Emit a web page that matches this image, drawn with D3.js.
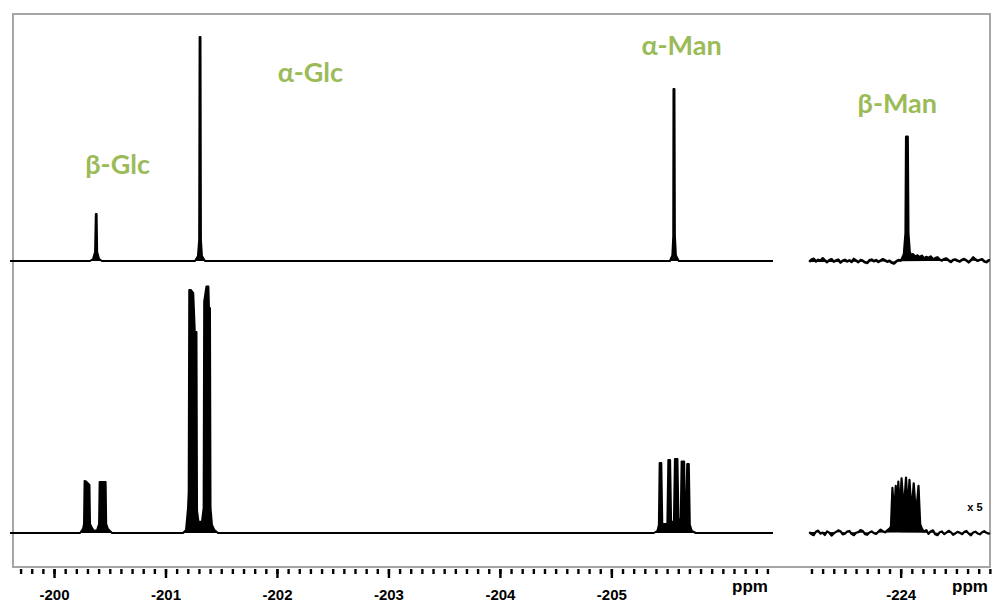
<!DOCTYPE html>
<html>
<head>
<meta charset="utf-8">
<script src="https://cdn.jsdelivr.net/npm/d3@7"></script>
<style>
  body { margin: 0; background: #fff; }
  svg { display: block; }
  .lbl { font-family: Lato, "Open Sans", sans-serif; font-weight: 700; font-size: 27px; fill: #9bbb59; }
  .tick text { font-family: "Liberation Sans", Arial, sans-serif; font-weight: 700; font-size: 15px; fill: #000; }
  .unit { font-family: "Liberation Sans", Arial, sans-serif; font-weight: 700; font-size: 17px; fill: #000; }
</style>
</head>
<body>
<svg id="chart"></svg>
<script>
// [ppm, intensity] points
const topLeft = [
  [-199.605, 0], [-200.323, 0], [-200.350, 0.9], [-200.368, 4], [-200.375, 21], [-200.382, 21],
  [-200.387, 4], [-200.404, 0.9], [-200.430, 0],
  [-201.265, 0], [-201.291, 2.2], [-201.302, 9.4], [-201.306, 100], [-201.314, 100],
  [-201.318, 9.4], [-201.327, 2.2], [-201.354, 0],
  [-205.525, 0], [-205.547, 2.5], [-205.555, 11], [-205.557, 76.8], [-205.566, 76.8],
  [-205.570, 11], [-205.579, 2.5], [-205.605, 0], [-206.45, 0]
];

const topRight = [
  [-223.18, -0.4], [-223.20, 0.6], [-223.22, 1.0], [-223.24, -0.2], [-223.26, 0.5], [-223.28, 0.1],
  [-223.30, 1.2], [-223.32, 0.3], [-223.34, -0.5], [-223.36, 0.4], [-223.38, 0.8], [-223.40, -0.3],
  [-223.42, 0.2], [-223.44, 0.6], [-223.46, -0.7], [-223.48, 0.1], [-223.50, 0.5], [-223.52, -0.2],
  [-223.54, 0.3], [-223.56, -0.4], [-223.58, 0.9], [-223.60, 0.2], [-223.62, -0.5], [-223.64, 0.4],
  [-223.66, 0.1], [-223.68, -0.6], [-223.70, -0.9], [-223.72, 0.3], [-223.74, 0.6], [-223.76, -0.1],
  [-223.78, 0.4], [-223.80, -0.4], [-223.82, 0.2], [-223.84, 0.8], [-223.86, 0.3], [-223.88, -0.3],
  [-223.90, 0.1], [-223.92, -0.8], [-223.94, -1.1], [-223.96, -0.2], [-223.98, 0.4], [-224.00, 0.2],
  [-224.010, 0.8], [-224.030, 3], [-224.045, 12.5], [-224.050, 55.5], [-224.062, 55.5],
  [-224.068, 12.5], [-224.080, 4],
  [-224.09, 2.6], [-224.11, 3.0], [-224.13, 1.9], [-224.15, 2.4], [-224.17, 1.6], [-224.19, 2.3],
  [-224.21, 1.1], [-224.23, 1.8], [-224.25, 1.3], [-224.27, 2.0], [-224.29, 0.7], [-224.31, 1.2],
  [-224.33, 1.6], [-224.35, 0.6], [-224.37, 0.2], [-224.39, 0.9], [-224.41, 1.1], [-224.43, 0.3],
  [-224.45, -0.4], [-224.47, 0.4], [-224.49, 0.7], [-224.51, 0.1], [-224.53, -0.2], [-224.55, 0.5],
  [-224.57, 0.9], [-224.59, 0.2], [-224.61, -0.6], [-224.63, 0.3], [-224.65, 1.6], [-224.67, 0.7],
  [-224.69, 0.1], [-224.71, 0.5], [-224.73, 0.8], [-224.75, -0.2], [-224.77, -0.5], [-224.79, 0.3],
  [-224.80, 0.2]
];

const bottomLeft = [
  [-199.605, 0], [-200.233, 0], [-200.260, 1.8], [-200.269, 4], [-200.274, 23.2], [-200.287, 23],
  [-200.318, 21.4], [-200.323, 4], [-200.341, 2.2], [-200.359, 0.9], [-200.386, 1.3], [-200.404, 4],
  [-200.409, 22.8], [-200.463, 22.8], [-200.468, 4], [-200.484, 1.8], [-200.520, 0],
  [-201.157, 0], [-201.184, 1.3], [-201.202, 11.2], [-201.208, 18.3], [-201.213, 108.5],
  [-201.229, 108.5], [-201.249, 107.1], [-201.263, 89.7], [-201.278, 89.7], [-201.283, 10],
  [-201.296, 5], [-201.327, 5], [-201.342, 11.2], [-201.347, 103.3], [-201.367, 110],
  [-201.385, 110], [-201.390, 100.4], [-201.399, 100.4], [-201.404, 11.2], [-201.417, 3.6],
  [-201.439, 1.3], [-201.471, 0],
  [-205.381, 0], [-205.413, 0.9], [-205.426, 3.6], [-205.433, 31.2], [-205.448, 31.2],
  [-205.457, 4], [-205.502, 4], [-205.511, 32.6], [-205.527, 32.6], [-205.536, 5],
  [-205.561, 5], [-205.570, 33], [-205.593, 33], [-205.602, 6], [-205.622, 6], [-205.630, 31.9],
  [-205.653, 31.9], [-205.662, 5], [-205.671, 5], [-205.680, 30.8], [-205.695, 30.8],
  [-205.704, 3.6], [-205.722, 0.9], [-205.758, 0], [-206.45, 0]
];

const bottomRight = [
  [-223.18, 0.4], [-223.20, -0.6], [-223.22, -1.0], [-223.24, 0.6], [-223.26, 1.1], [-223.28, -0.3],
  [-223.30, 0.2], [-223.32, -0.9], [-223.34, 0.7], [-223.36, 0.1], [-223.38, -1.2], [-223.40, -0.2],
  [-223.42, 0.5], [-223.44, 1.2], [-223.46, 0.8], [-223.48, -0.6], [-223.50, -0.3], [-223.52, 0.6],
  [-223.54, 0.9], [-223.56, -0.4], [-223.58, -1.0], [-223.60, 0.1], [-223.62, 0.4], [-223.64, 1.3],
  [-223.66, 0.9], [-223.68, -0.5], [-223.70, -0.8], [-223.72, 0.2], [-223.74, 0.7], [-223.76, -0.1],
  [-223.78, -0.4], [-223.80, 0.6], [-223.82, 1.5], [-223.84, 0.8], [-223.86, 0.3], [-223.88, 1.2],
  [-223.90, 1.9], [-223.913, 3],
  [-223.926, 20.2], [-223.941, 8], [-223.956, 21.1], [-223.968, 9], [-223.979, 22.9],
  [-223.994, 10], [-224.008, 24.4], [-224.028, 10], [-224.048, 24.7], [-224.064, 10],
  [-224.079, 23.7], [-224.098, 9], [-224.117, 22.2], [-224.138, 8], [-224.160, 21.1],
  [-224.175, 4],
  [-224.19, 2.0], [-224.21, 0.6], [-224.23, 1.3], [-224.25, -0.4], [-224.27, 0.8], [-224.29, 1.2],
  [-224.31, -0.6], [-224.33, -1.0], [-224.35, 0.3], [-224.37, 0.7], [-224.39, -0.5], [-224.41, 0.2],
  [-224.43, 1.0], [-224.45, 0.4], [-224.47, -0.8], [-224.49, -0.2], [-224.51, 0.5], [-224.53, 0.1],
  [-224.55, -0.5], [-224.57, 0.4], [-224.59, 0.9], [-224.61, -0.3], [-224.63, -1.0], [-224.65, 0.2],
  [-224.67, 0.6], [-224.69, -0.2], [-224.71, -0.6], [-224.73, 0.3], [-224.75, 0.8], [-224.77, 0.1],
  [-224.79, -0.3], [-224.80, 0]
];

const leftTicks = [-200, -201, -202, -203, -204, -205];
const rightTicks = [-224];

// [text, ppm, intensity above the top baseline]
const peakLabels = [
  ['β-Glc', -200.57, 39],
  ['α-Glc', -202.30, 80],
  ['α-Man', -205.630, 92],
  ['β-Man', -223.970, 66]
];

const width = 995, height = 603;

const svg = d3.select('#chart')
  .attr('width', width)
  .attr('height', height);

const xLeft = d3.scaleLinear().domain([-199.605, -206.45]).range([10, 773]);
const xRight = d3.scaleLinear().domain([-223.169, -224.846]).range([808, 995]);
const yTop = d3.scaleLinear().domain([0, 100]).range([261, 37]);
const yBot = d3.scaleLinear().domain([0, 100]).range([533, 309]);

// frame
svg.append('rect')
  .attr('x', 13)
  .attr('y', 14)
  .attr('width', 977)
  .attr('height', 553)
  .attr('fill', 'none')
  .attr('stroke', '#a6a6a6')
  .attr('stroke-width', 2);

const drawTrace = (data, x, y, w) => {
  const line = d3.line()
    .x((d) => x(d[0]))
    .y((d) => y(d[1]));
  svg.append('path')
    .datum(data)
    .attr('d', line)
    .attr('fill', '#000')
    .attr('stroke', '#000')
    .attr('stroke-width', w)
    .attr('stroke-linejoin', 'round');
};

drawTrace(topLeft, xLeft, yTop, 2);
drawTrace(topRight, xRight, yTop, 2.6);
drawTrace(bottomLeft, xLeft, yBot, 2);
drawTrace(bottomRight, xRight, yBot, 2.2);

// axes: minor ticks every 0.1 ppm, labelled major ticks
const axisY = 569;
const addAxis = (x, majors, minorCount) => {
  const minor = svg.append('g')
    .attr('transform', `translate(0, ${axisY})`)
    .call(d3.axisBottom(x).ticks(minorCount).tickSize(5).tickFormat(''));
  const major = svg.append('g')
    .attr('transform', `translate(0, ${axisY})`)
    .call(d3.axisBottom(x).tickValues(majors).tickSize(9).tickPadding(11).tickFormat((d) => d));
  [minor, major].forEach((g) => {
    g.select('.domain').remove();
    g.selectAll('.tick line').attr('stroke', '#000').attr('stroke-width', 2.4);
  });
};
addAxis(xLeft, leftTicks, 60);
addAxis(xRight, rightTicks, 16);

svg.append('text').attr('class', 'unit')
  .attr('x', 750).attr('y', 592)
  .attr('text-anchor', 'middle').text('ppm');
svg.append('text').attr('class', 'unit')
  .attr('x', 970).attr('y', 592)
  .attr('text-anchor', 'middle').text('ppm');

// peak labels
svg.selectAll('.lbl')
  .data(peakLabels)
  .enter()
  .append('text')
  .attr('class', 'lbl')
  .attr('x', (d) => (d[1] < -220 ? xRight(d[1]) : xLeft(d[1])))
  .attr('y', (d) => yTop(d[2]))
  .attr('text-anchor', 'middle')
  .text((d) => d[0]);

svg.append('text')
  .attr('x', 975)
  .attr('y', 511)
  .attr('text-anchor', 'middle')
  .style('font-family', '"Liberation Sans", Arial, sans-serif')
  .style('font-weight', 700)
  .style('font-size', '11px')
  .text('x 5');
</script>
</body>
</html>
